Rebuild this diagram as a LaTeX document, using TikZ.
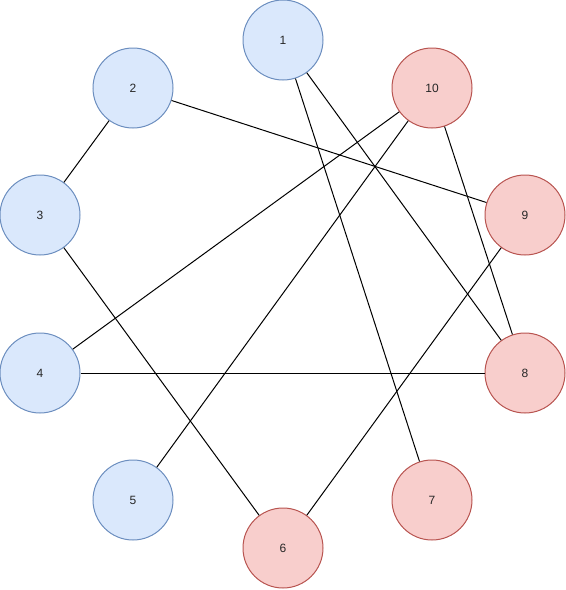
\documentclass[tikz,border=0pt]{standalone}
\usepackage{fontspec}
\setmainfont{Liberation Sans}
\usepackage{xcolor}
\definecolor{bfill}{HTML}{dae8fc}
\definecolor{bline}{HTML}{6c8ebf}
\definecolor{rfill}{HTML}{f8cecc}
\definecolor{rline}{HTML}{b85450}
\definecolor{ink}{HTML}{000000}

\begin{document}
\begin{tikzpicture}[x=0.75pt,y=-0.75pt,
    vtx/.style={circle,minimum size=60pt,inner sep=0pt,line width=0.75pt,font=\fontsize{9}{10}\selectfont,text=ink!85},
    bvtx/.style={vtx,fill=bfill,draw=bline},
    rvtx/.style={vtx,fill=rfill,draw=rline},
    edge/.style={ink,line width=0.75pt}]
  \useasboundingbox (0,0) rectangle (566,590);

  % Blue side of the ring
  \node[bvtx] (n1) at (283,40)  {1};
  \node[bvtx] (n2) at (133,88)  {2};
  \node[bvtx] (n3) at (40,215)  {3};
  \node[bvtx] (n4) at (40,373)  {4};
  \node[bvtx] (n5) at (133,500) {5};

  % Red side of the ring
  \node[rvtx] (n6)  at (283,548) {6};
  \node[rvtx] (n7)  at (432,500) {7};
  \node[rvtx] (n8)  at (525,373) {8};
  \node[rvtx] (n9)  at (525,215) {9};
  \node[rvtx] (n10) at (432,88)  {10};

  % Edges
  \draw[edge] (n2) -- (n3);
  \draw[edge] (n2) -- (n9);
  \draw[edge] (n1) -- (n8);
  \draw[edge] (n1) -- (n7);
  \draw[edge] (n10) -- (n4);
  \draw[edge] (n10) -- (n5);
  \draw[edge] (n10) -- (n8);
  \draw[edge] (n3) -- (n6);
  \draw[edge] (n4) -- (n8);
  \draw[edge] (n9) -- (n6);

\end{tikzpicture}
\end{document}
